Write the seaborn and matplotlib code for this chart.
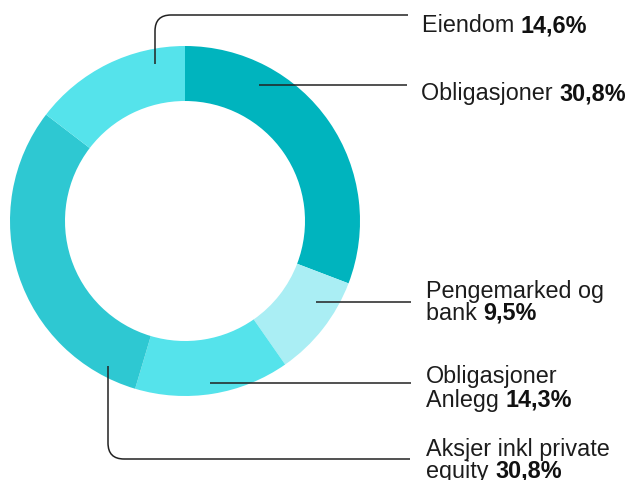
import matplotlib
matplotlib.use("Agg")
import matplotlib.pyplot as plt
import seaborn as sns
from matplotlib.path import Path
from matplotlib.patches import PathPatch

sns.set_theme(style="white")
plt.rcParams['font.family'] = ['Liberation Sans', 'DejaVu Sans']

# Data (clockwise from 12 o'clock)
categories = ["Obligasjoner", "Pengemarked og bank", "Obligasjoner Anlegg",
              "Aksjer inkl private equity", "Eiendom"]
values = [30.8, 9.5, 14.3, 30.8, 14.6]
value_labels = ["30,8%", "9,5%", "14,3%", "30,8%", "14,6%"]
label_lines = [["Obligasjoner "], ["Pengemarked og", "bank "], ["Obligasjoner", "Anlegg "],
               ["Aksjer inkl private", "equity "], ["Eiendom "]]
colors = ["#00b4be", "#aaeef4", "#55e3eb", "#2ec8d2", "#55e3eb"]

W, H = 631, 481
fig = plt.figure(figsize=(W / 100, H / 100), dpi=100)
ax = fig.add_axes([0, 0, 1, 1])

cx, cy, R, ring = 185, 222, 175, 55
ax.pie(values, colors=colors, startangle=-90, counterclock=True,
       radius=R, center=(cx, cy), frame=True,
       wedgeprops=dict(width=ring, linewidth=0, edgecolor="none", antialiased=True))
ax.set_aspect("auto")
ax.set_xlim(0, W)
ax.set_ylim(H, 0)
ax.axis("off")

# Leader lines (layout)
line_col = "#222222"
lw = 1.1
r = 16
leaders = [
    [(Path.MOVETO, (259, 86)), (Path.LINETO, (407, 86))],
    [(Path.MOVETO, (316, 303)), (Path.LINETO, (411, 303))],
    [(Path.MOVETO, (210, 384)), (Path.LINETO, (411, 384))],
    [(Path.MOVETO, (108, 367)), (Path.LINETO, (108, 460 - r)),
     (Path.CURVE3, (108, 460)), (Path.CURVE3, (108 + r, 460)), (Path.LINETO, (410, 460))],
    [(Path.MOVETO, (155, 65)), (Path.LINETO, (155, 16 + r)),
     (Path.CURVE3, (155, 16)), (Path.CURVE3, (155 + r, 16)), (Path.LINETO, (408, 16))],
]
for segs in leaders:
    codes = [c for c, _ in segs]
    verts = [v for _, v in segs]
    ax.add_patch(PathPatch(Path(verts, codes), fill=False, edgecolor=line_col, lw=lw,
                           capstyle="butt"))

# Text (layout)
text_x = [421, 426, 426, 426, 422]
baselines = [[100], [298, 320], [383, 407], [456, 478], [32]]
fs = 16.8
txt_col = "#1c1c1c"
regs = []
for lines, bls, val, tx in zip(label_lines, baselines, value_labels, text_x):
    for ln, bl in zip(lines, bls):
        t = ax.text(tx, bl, ln, fontsize=fs, color=txt_col, va="baseline", ha="left")
    regs.append((t, bls[-1], val))

fig.canvas.draw()
renderer = fig.canvas.get_renderer()
inv = ax.transData.inverted()
for t, bl, val in regs:
    bb = t.get_window_extent(renderer)
    x1 = inv.transform((bb.x1, bb.y0))[0]
    ax.text(x1, bl, val, fontsize=fs, color="#111111", fontweight="bold",
            va="baseline", ha="left")

fig.savefig("out.png", dpi=100)
